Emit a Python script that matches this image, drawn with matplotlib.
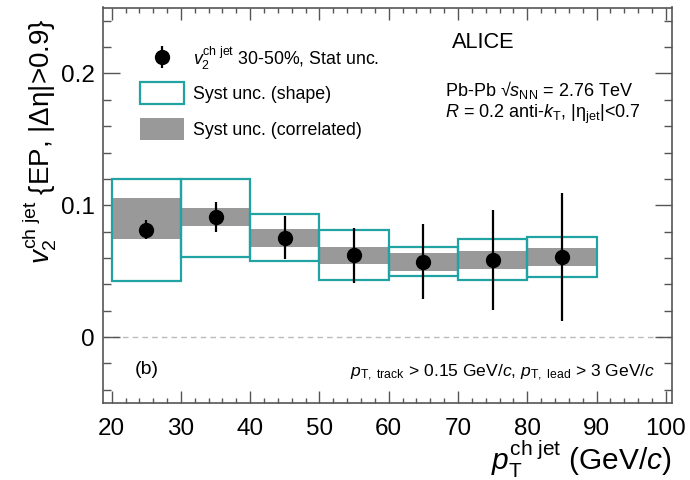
import matplotlib
matplotlib.use("Agg")
import matplotlib.pyplot as plt
from matplotlib.patches import Rectangle, Patch
from matplotlib.ticker import MultipleLocator, FixedLocator
from matplotlib.legend_handler import HandlerErrorbar
from matplotlib.container import ErrorbarContainer

plt.rcParams['font.family'] = ['Liberation Sans', 'DejaVu Sans']
plt.rcParams['mathtext.fontset'] = 'custom'
plt.rcParams['mathtext.rm'] = 'Liberation Sans'
plt.rcParams['mathtext.it'] = 'Liberation Sans:italic'
plt.rcParams['mathtext.bf'] = 'Liberation Sans:bold'
plt.rcParams['mathtext.sf'] = 'Liberation Sans'

# ---- data ----
bin_lo = [20, 30, 40, 50, 60, 70, 80]
bin_hi = [30, 40, 50, 60, 70, 80, 90]
v2 = [0.0813, 0.0911, 0.0755, 0.0621, 0.0573, 0.0586, 0.0608]
stat_err = [0.0072, 0.0112, 0.0162, 0.0209, 0.0284, 0.0379, 0.0486]
shape_lo = [0.0427, 0.0611, 0.0578, 0.0434, 0.0460, 0.0432, 0.0457]
shape_hi = [0.1202, 0.1197, 0.0932, 0.0811, 0.0684, 0.0742, 0.0760]
corr_lo = [0.0742, 0.0843, 0.0687, 0.0553, 0.0502, 0.0515, 0.0540]
corr_hi = [0.1058, 0.0977, 0.0818, 0.0687, 0.0641, 0.0654, 0.0674]

TEAL = '#22a3a3'
GREY = '#999999'

W, H = 690, 480
fig = plt.figure(figsize=(W/100, H/100), dpi=100)
ax = fig.add_axes([103/W, 1-403/H, (672-103)/W, (403-7.5)/H])
ax.set_xlim(18.75, 100.9)
ax.set_ylim(-0.05, 0.25)

ax.axhline(0, color='#bbbbbb', lw=1.0, ls=(0, (4, 3)), zorder=1)

for lo, hi, clo, chi, slo, shi in zip(bin_lo, bin_hi, corr_lo, corr_hi, shape_lo, shape_hi):
    ax.add_patch(Rectangle((lo, clo), hi-lo, chi-clo, facecolor=GREY, edgecolor='none', zorder=2))
    ax.add_patch(Rectangle((lo, slo), hi-lo, shi-slo, facecolor='none', edgecolor=TEAL, lw=1.6, zorder=3))

centers = [(a+b)/2 for a, b in zip(bin_lo, bin_hi)]
eb = ax.errorbar(centers, v2, yerr=stat_err, fmt='o', color='black', ms=10,
                 elinewidth=1.6, capsize=0, zorder=5)

# ticks
ax.xaxis.set_major_locator(MultipleLocator(10))
ax.xaxis.set_minor_locator(MultipleLocator(2))
ax.yaxis.set_major_locator(FixedLocator([-0.1, 0, 0.1, 0.2]))
ax.yaxis.set_minor_locator(MultipleLocator(0.02))
ax.set_yticklabels(['', '0', '0.1', '0.2'])
ax.tick_params(axis='both', which='both', direction='in', top=True, right=True,
               colors='#555555', labelcolor='black', width=1.0)
ax.tick_params(axis='x', which='major', length=8.5, labelsize=17.5, pad=11)
ax.tick_params(axis='x', which='minor', length=3.8)
ax.tick_params(axis='y', which='major', length=12, labelsize=17.5, pad=6)
ax.tick_params(axis='y', which='minor', length=6)
for s in ax.spines.values():
    s.set_color('#555555')
    s.set_linewidth(1.2)

# legend: one entry per row, each anchored at its row centre
handles = [eb,
           Patch(facecolor='white', edgecolor=TEAL, lw=1.6),
           Patch(facecolor=GREY, edgecolor='none')]
labels = [r'$v_{2}^{\mathrm{ch\ jet}}$ 30-50%, Stat unc.',
          'Syst unc. (shape)', 'Syst unc. (correlated)']
row_y = [58.5, 93, 129]
for h, lab, ry in zip(handles, labels, row_y):
    leg = fig.legend([h], [lab], loc='center left', bbox_to_anchor=(140/W, 1-ry/H),
                     frameon=False, fontsize=12.8, handlelength=2.47, handleheight=1.55,
                     handletextpad=0.5, borderpad=0, borderaxespad=0,
                     handler_map={ErrorbarContainer: HandlerErrorbar(yerr_size=0.62)})

# annotations
fig.text(452/W, 1-43/H, 'ALICE', fontsize=15.7, ha='left', va='center')
fig.text(445/W, 1-90/H, r'Pb-Pb √$\mathit{s}_{\mathrm{NN}}$ = 2.76 TeV', fontsize=13,
         ha='left', va='center')
fig.text(445/W, 1-114/H, r'$\mathit{R}$ = 0.2 anti-$\mathit{k}_{\mathrm{T}}$, |$\mathrm{\eta}_{\mathrm{jet}}$|<0.7',
         fontsize=13, ha='left', va='center')
fig.text(135/W, 1-370/H, '(b)', fontsize=14, ha='left', va='center')
fig.text(655/W, 1-373/H,
         r'$\mathit{p}_{\mathrm{T,\ track}}$ > 0.15 GeV/$\mathit{c}$, $\mathit{p}_{\mathrm{T,\ lead}}$ > 3 GeV/$\mathit{c}$',
         fontsize=12.6, ha='right', va='center')

fig.text(672/W, 1-470/H, r'$\mathit{p}_{\mathrm{T}}^{\mathrm{ch\ jet}}$ (GeV/$\mathit{c}$)',
         fontsize=21.5, ha='right', va='baseline')
fig.text(40/W, 1-18/H, r'$v_{2}^{\mathrm{ch\ jet}}$ {EP, |Δη|>0.9}', fontsize=20,
         rotation=90, ha='center', va='top')

fig.savefig('out.png', dpi=100)
